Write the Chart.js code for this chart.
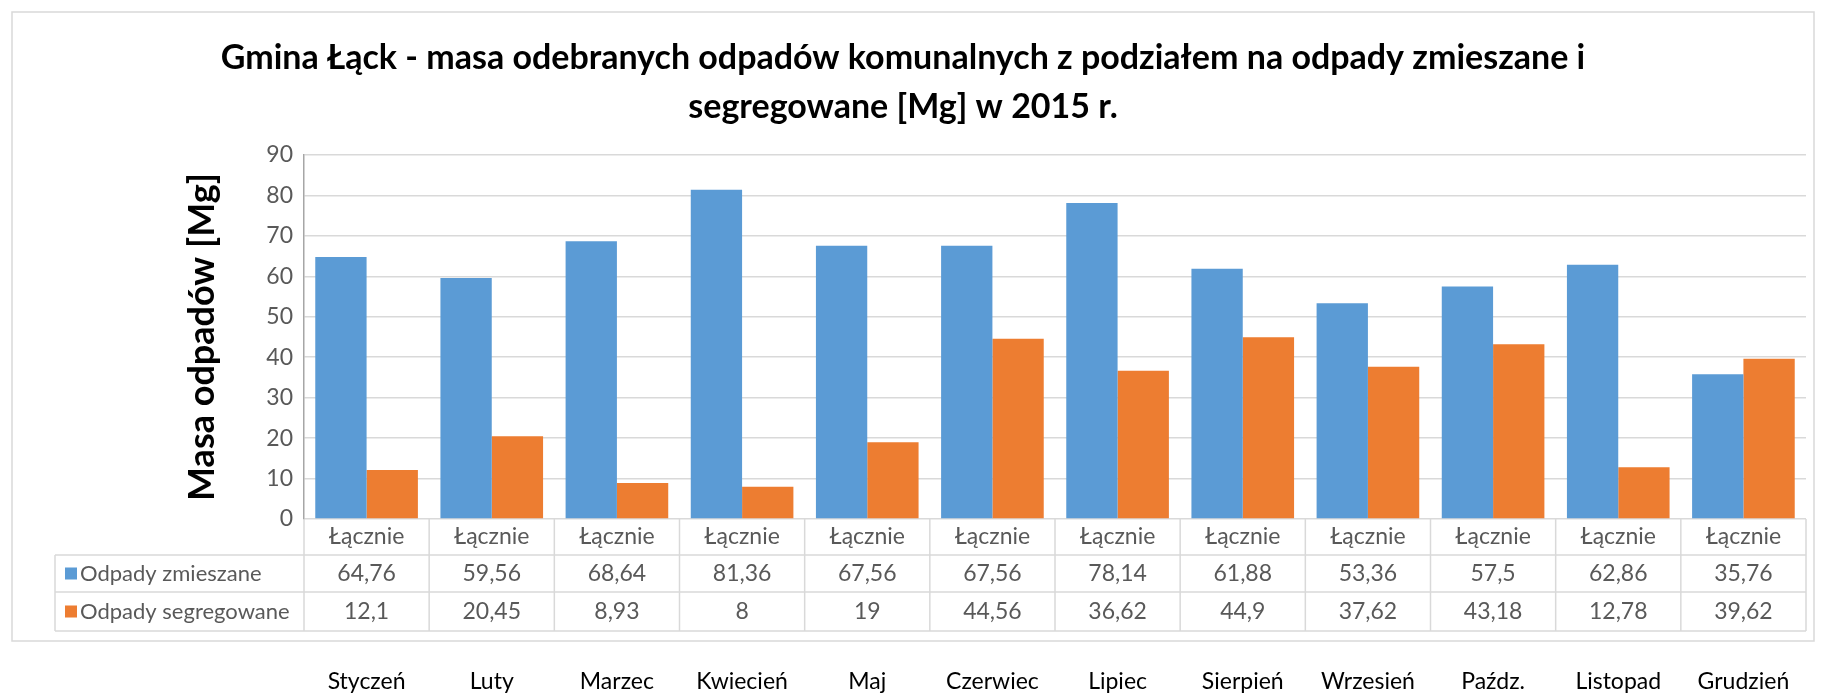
<!DOCTYPE html>
<html>
<head>
<meta charset="utf-8">
<script src="https://cdn.jsdelivr.net/npm/chart.js@4.4.1/dist/chart.umd.min.js"></script>
<style>
  html, body { margin: 0; padding: 0; background: #fff; }
  #wrap { width: 1821px; height: 695px; }
</style>
</head>
<body>
<div id="wrap"><canvas id="chart" width="1821" height="695"></canvas></div>
<script>
const categories = ['Łącznie', 'Łącznie', 'Łącznie', 'Łącznie', 'Łącznie', 'Łącznie',
  'Łącznie', 'Łącznie', 'Łącznie', 'Łącznie', 'Łącznie', 'Łącznie'];
const months = ['Styczeń', 'Luty', 'Marzec', 'Kwiecień', 'Maj', 'Czerwiec',
  'Lipiec', 'Sierpień', 'Wrzesień', 'Paźdz.', 'Listopad', 'Grudzień'];
const mixedWaste = [64.76, 59.56, 68.64, 81.36, 67.56, 67.56, 78.14, 61.88, 53.36, 57.5, 62.86, 35.76];
const sortedWaste = [12.1, 20.45, 8.93, 8, 19, 44.56, 36.62, 44.9, 37.62, 43.18, 12.78, 39.62];
const seriesNames = ['Odpady zmieszane', 'Odpady segregowane'];
const yTicks = [0, 10, 20, 30, 40, 50, 60, 70, 80, 90];

const BLUE = '#5B9BD5';
const ORANGE = '#ED7D31';
const LINE = '#D9D9D9';
const TXT = '#595959';
const FONT = 'Lato, "Open Sans", sans-serif';

const fmt = (v) => String(v).replace('.', ',');

// data table under the plot, outer frame and month names
const tablePlugin = {
  id: 'dataTable',
  beforeDraw(chart) {
    const { ctx } = chart;
    ctx.save();
    ctx.strokeStyle = LINE;
    ctx.lineWidth = 1.5;
    ctx.strokeRect(12, 12, 1802, 629);
    ctx.restore();
  },
  afterDraw(chart) {
    const { ctx, scales: { x, y } } = chart;
    const colW = (x.right - x.left) / categories.length;
    const top = y.bottom;
    const rowH = [36, 37, 39];
    const r1 = top + rowH[0];
    const r2 = r1 + rowH[1];
    const r3 = r2 + rowH[2];
    const tableLeft = 55;

    ctx.save();
    ctx.strokeStyle = LINE;
    ctx.lineWidth = 1.5;
    ctx.beginPath();
    [r1, r2, r3].forEach((yy) => { ctx.moveTo(tableLeft, yy); ctx.lineTo(x.right, yy); });
    ctx.moveTo(tableLeft, r1); ctx.lineTo(tableLeft, r3);
    for (let i = 0; i <= categories.length; i++) {
      const xx = x.left + i * colW;
      ctx.moveTo(xx, top); ctx.lineTo(xx, r3);
    }
    ctx.stroke();

    ctx.font = '23px ' + FONT;
    ctx.fillStyle = TXT;
    ctx.textAlign = 'center';
    ctx.textBaseline = 'middle';
    categories.forEach((c, i) => {
      const cx = x.getPixelForValue(i);
      ctx.fillText(c, cx, (top + r1) / 2);
      ctx.fillText(fmt(mixedWaste[i]), cx, (r1 + r2) / 2);
      ctx.fillText(fmt(sortedWaste[i]), cx, (r2 + r3) / 2);
    });

    // legend keys in the row headers
    ctx.textAlign = 'left';
    ctx.font = '22px ' + FONT;
    [[BLUE, (r1 + r2) / 2], [ORANGE, (r2 + r3) / 2]].forEach(([col, cy], k) => {
      ctx.fillStyle = col;
      ctx.fillRect(65, cy - 6, 12, 12);
      ctx.fillStyle = TXT;
      ctx.fillText(seriesNames[k], 80, cy);
    });

    // month names below the frame
    ctx.font = '23px ' + FONT;
    ctx.fillStyle = '#000';
    ctx.textAlign = 'center';
    months.forEach((m, i) => {
      ctx.fillText(m, x.getPixelForValue(i), 682);
    });
    ctx.restore();
  }
};

new Chart(document.getElementById('chart'), {
  type: 'bar',
  data: {
    labels: categories,
    datasets: [
      { label: seriesNames[0], data: mixedWaste, backgroundColor: BLUE },
      { label: seriesNames[1], data: sortedWaste, backgroundColor: ORANGE }
    ]
  },
  options: {
    responsive: false,
    animation: false,
    layout: { padding: { left: 0, right: 15, top: 0, bottom: 176 }, autoPadding: false },
    datasets: { bar: { categoryPercentage: 0.82, barPercentage: 1.0 } },
    plugins: {
      legend: { display: false },
      tooltip: { enabled: false },
      title: {
        display: true,
        text: ['Gmina Łąck - masa odebranych odpadów komunalnych z podziałem na odpady zmieszane i',
               'segregowane [Mg] w 2015 r.'],
        color: '#000',
        font: { family: FONT, size: 34, weight: 'bold', lineHeight: 1.44 },
        padding: { top: 34, bottom: 23 }
      }
    },
    scales: {
      x: { display: false },
      y: {
        min: 0,
        max: 90,
        afterBuildTicks: (s) => { s.ticks = yTicks.map((v) => ({ value: v })); },
        afterFit: (s) => { s.width = 304; },
        ticks: { color: TXT, font: { family: FONT, size: 23 }, padding: 11 },
        grid: { color: LINE, lineWidth: 1.5, drawTicks: false },
        border: { display: true, color: '#A6A6A6', width: 1.5 },
        title: {
          display: true,
          text: 'Masa odpadów [Mg]',
          color: '#000',
          font: { family: FONT, size: 36, weight: 'bold', lineHeight: 1.2 },
          padding: { top: 181, bottom: 0 }
        }
      }
    }
  },
  plugins: [tablePlugin]
});
</script>
</body>
</html>
